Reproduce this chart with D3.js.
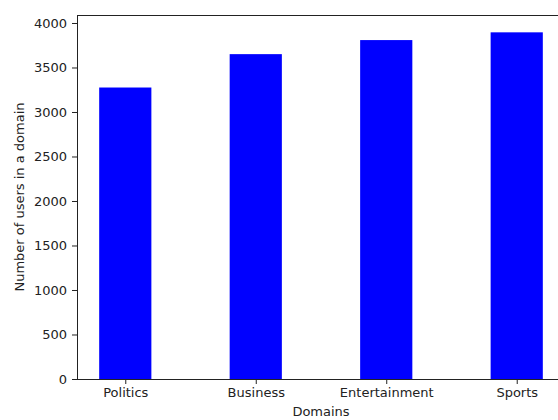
<!DOCTYPE html>
<html>
<head>
<meta charset="utf-8">
<script src="https://cdn.jsdelivr.net/npm/d3@7"></script>
<style>
  html, body { margin: 0; padding: 0; background: #fff; overflow: hidden; }
  svg { display: block; font-family: "DejaVu Sans", sans-serif; }
</style>
</head>
<body>
<svg id="chart" width="558" height="420"></svg>
<script>
// Users per news domain
const domains = ["Politics", "Business", "Entertainment", "Sports"];
const userCounts = [3275, 3650, 3808, 3895];
const yTicks = [0, 500, 1000, 1500, 2000, 2500, 3000, 3500, 4000];
const xTitle = "Domains";
const yTitle = "Number of users in a domain";

const svg = d3.select("#chart");
const plot = { left: 77, right: 565, top: 15, bottom: 379 };

// Bars of width 0.4 on integer positions, with 5% margins on each axis
const barWidth = 0.4;
const lo = -barWidth / 2, hi = domains.length - 1 + barWidth / 2;
const pad = (hi - lo) * 0.05;
const x = d3.scaleLinear().domain([lo - pad, hi + pad]).range([plot.left, plot.right]);
const y = d3.scaleLinear().domain([0, d3.max(userCounts) * 1.05]).range([plot.bottom, plot.top]);

const ink = "#222";

// bars
svg.append("g").selectAll("rect")
  .data(userCounts)
  .join("rect")
  .attr("x", (d, i) => x(i - barWidth / 2))
  .attr("width", (d, i) => x(i + barWidth / 2) - x(i - barWidth / 2))
  .attr("y", d => y(d))
  .attr("height", d => y(0) - y(d))
  .attr("fill", "#0000ff");

// x axis
const xAxis = d3.axisBottom(x)
  .tickValues(d3.range(domains.length))
  .tickFormat(i => domains[i])
  .tickSize(5).tickPadding(4).tickSizeOuter(0);
const gx = svg.append("g").attr("transform", `translate(0,${plot.bottom})`).call(xAxis);

// y axis
const yAxis = d3.axisLeft(y).tickValues(yTicks).tickFormat(d3.format("d"))
  .tickSize(5).tickPadding(5).tickSizeOuter(0);
const gy = svg.append("g").attr("transform", `translate(${plot.left},0)`).call(yAxis);

[gx, gy].forEach(g => {
  g.select(".domain").remove();
  g.selectAll(".tick line").attr("stroke", ink).attr("stroke-width", 1);
  g.selectAll(".tick text").attr("fill", ink).style("font-size", "13px")
    .style("font-family", "DejaVu Sans, sans-serif");
});

// spines: left, top, bottom (the right one falls past the page edge)
const spines = [
  [plot.left, plot.top, plot.left, plot.bottom],
  [plot.left, plot.top, plot.right, plot.top],
  [plot.left, plot.bottom, plot.right, plot.bottom]
];
svg.append("g").selectAll("line")
  .data(spines)
  .join("line")
  .attr("x1", d => d[0]).attr("y1", d => d[1])
  .attr("x2", d => d[2]).attr("y2", d => d[3])
  .attr("stroke", ink).attr("stroke-width", 1)
  .attr("shape-rendering", "crispEdges");

// axis titles
svg.append("text")
  .attr("x", (plot.left + plot.right) / 2)
  .attr("y", 416)
  .attr("text-anchor", "middle")
  .attr("fill", ink).style("font-size", "13px")
  .text(xTitle);

svg.append("text")
  .attr("transform", `translate(24,${(plot.top + plot.bottom) / 2}) rotate(-90)`)
  .attr("text-anchor", "middle")
  .attr("fill", ink).style("font-size", "13px")
  .text(yTitle);
</script>
</body>
</html>
